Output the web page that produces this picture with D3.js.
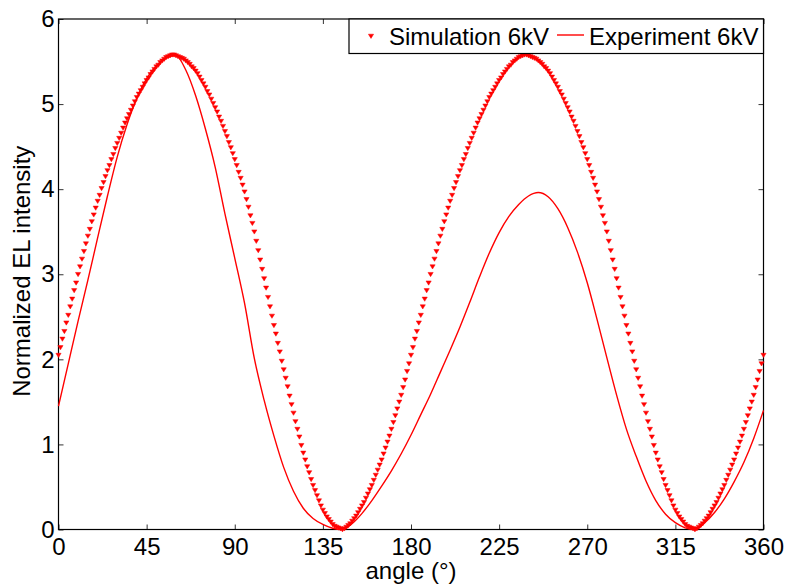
<!DOCTYPE html>
<html>
<head>
<meta charset="utf-8">
<script src="https://cdn.jsdelivr.net/npm/d3@7"></script>
<style>
  html, body { margin: 0; padding: 0; background: #fff; }
  svg { display: block; font-family: "Liberation Sans", Arial, Helvetica, sans-serif; }
</style>
</head>
<body>
<div id="chart"></div>
<script>
// EL intensity vs polariser angle: simulation markers + experiment line.

const xTicks = [0, 45, 90, 135, 180, 225, 270, 315, 360];
const yTicks = [0, 1, 2, 3, 4, 5, 6];

// Simulation 6kV, one value per degree, 0..360
const simValues = [
  // 0..145
  2.05, 2.14, 2.24, 2.33, 2.43, 2.52, 2.62, 2.71, 2.81, 2.90,
  3.00, 3.09, 3.18, 3.27, 3.36, 3.45, 3.53, 3.62, 3.70, 3.78,
  3.86, 3.93, 4.01, 4.08, 4.15, 4.22, 4.28, 4.35, 4.41, 4.48,
  4.54, 4.60, 4.66, 4.72, 4.78, 4.83, 4.88, 4.93, 4.98, 5.03,
  5.08, 5.12, 5.16, 5.20, 5.24, 5.28, 5.31, 5.35, 5.38, 5.41,
  5.44, 5.46, 5.49, 5.51, 5.53, 5.55, 5.56, 5.57, 5.58, 5.58,
  5.57, 5.56, 5.55, 5.54, 5.53, 5.51, 5.49, 5.47, 5.44, 5.42,
  5.39, 5.36, 5.32, 5.28, 5.24, 5.20, 5.15, 5.11, 5.06, 5.01,
  4.96, 4.91, 4.85, 4.80, 4.74, 4.68, 4.62, 4.55, 4.49, 4.42,
  4.35, 4.28, 4.20, 4.13, 4.05, 3.97, 3.88, 3.79, 3.69, 3.60,
  3.50, 3.39, 3.28, 3.17, 3.06, 2.95, 2.84, 2.73, 2.62, 2.51,
  2.40, 2.30, 2.19, 2.09, 1.98, 1.88, 1.78, 1.68, 1.57, 1.47,
  1.37, 1.27, 1.18, 1.09, 0.99, 0.90, 0.82, 0.74, 0.67, 0.59,
  0.52, 0.46, 0.40, 0.34, 0.28, 0.23, 0.19, 0.15, 0.12, 0.09,
  0.06, 0.04, 0.03, 0.02, 0.01, 0.00,
  // 146..325
  0.01, 0.03, 0.05, 0.07, 0.10, 0.13, 0.16, 0.20, 0.24, 0.28,
  0.32, 0.37, 0.42, 0.47, 0.52, 0.58, 0.64, 0.70, 0.76, 0.82,
  0.89, 0.96, 1.03, 1.10, 1.18, 1.26, 1.34, 1.42, 1.50, 1.58,
  1.67, 1.76, 1.86, 1.95, 2.05, 2.14, 2.24, 2.33, 2.43, 2.52,
  2.62, 2.71, 2.81, 2.90, 3.00, 3.09, 3.18, 3.27, 3.36, 3.45,
  3.53, 3.62, 3.70, 3.78, 3.86, 3.93, 4.01, 4.08, 4.15, 4.22,
  4.28, 4.35, 4.41, 4.48, 4.54, 4.60, 4.66, 4.72, 4.78, 4.83,
  4.88, 4.93, 4.98, 5.03, 5.08, 5.12, 5.16, 5.20, 5.24, 5.28,
  5.31, 5.35, 5.38, 5.41, 5.44, 5.46, 5.49, 5.51, 5.53, 5.55,
  5.56, 5.57, 5.58, 5.58, 5.57, 5.56, 5.55, 5.54, 5.53, 5.51,
  5.49, 5.47, 5.44, 5.42, 5.39, 5.36, 5.32, 5.28, 5.24, 5.20,
  5.15, 5.11, 5.06, 5.01, 4.96, 4.91, 4.85, 4.80, 4.74, 4.68,
  4.62, 4.55, 4.49, 4.42, 4.35, 4.28, 4.20, 4.13, 4.05, 3.97,
  3.88, 3.79, 3.69, 3.60, 3.50, 3.39, 3.28, 3.17, 3.06, 2.95,
  2.84, 2.73, 2.62, 2.51, 2.40, 2.30, 2.19, 2.09, 1.98, 1.88,
  1.78, 1.68, 1.57, 1.47, 1.37, 1.27, 1.18, 1.09, 0.99, 0.90,
  0.82, 0.74, 0.67, 0.59, 0.52, 0.46, 0.40, 0.34, 0.28, 0.23,
  0.19, 0.15, 0.12, 0.09, 0.06, 0.04, 0.03, 0.02, 0.01, 0.00,
  // 326..360
  0.01, 0.03, 0.05, 0.07, 0.10, 0.13, 0.16, 0.20, 0.24, 0.28,
  0.32, 0.37, 0.42, 0.47, 0.52, 0.58, 0.64, 0.70, 0.76, 0.82,
  0.89, 0.96, 1.03, 1.10, 1.18, 1.26, 1.34, 1.42, 1.50, 1.58,
  1.67, 1.76, 1.86, 1.95, 2.05
];

// Experiment 6kV, every 5 degrees
const expAngles = [
  0, 5, 10, 15, 20, 25, 30, 35, 40, 45, 50, 55, 60, 65, 70, 75, 80, 85, 90,
  95, 100, 105, 110, 115, 120, 125, 130, 135, 140, 145, 150, 155, 160, 165, 170, 175, 180,
  185, 190, 195, 200, 205, 210, 215, 220, 225, 230, 235, 240, 245, 250, 255, 260, 265, 270,
  275, 280, 285, 290, 295, 300, 305, 310, 315, 320, 325, 330, 335, 340, 345, 350, 355, 360
];
const expValues = [
  1.45, 1.95, 2.45, 2.93, 3.43, 3.92, 4.38, 4.76, 5.07, 5.30, 5.45, 5.54, 5.57, 5.40, 5.10, 4.71, 4.26, 3.71, 3.19,
  2.66, 2.01, 1.52, 1.10, 0.73, 0.45, 0.25, 0.13, 0.06, 0.015, 0.00, 0.07, 0.19, 0.34, 0.51, 0.69, 0.89, 1.11,
  1.35, 1.59, 1.85, 2.11, 2.38, 2.67, 2.97, 3.25, 3.49, 3.68, 3.82, 3.92, 3.96, 3.91, 3.77, 3.55, 3.26, 2.90,
  2.47, 2.02, 1.58, 1.18, 0.86, 0.57, 0.34, 0.18, 0.08, 0.02, 0.00, 0.08, 0.20, 0.36, 0.56, 0.79, 1.07, 1.40
];

const W = 787, H = 585;
const FONT = 24;
const RED = "#ff0000";
const plot = { left: 58.5, right: 763.5, top: 19, bottom: 529.5 };

const svg = d3.select("#chart").append("svg").attr("width", W).attr("height", H);
svg.append("rect").attr("width", W).attr("height", H).attr("fill", "#fff");

const x = d3.scaleLinear().domain([0, 360]).range([plot.left, plot.right]);
const y = d3.scaleLinear().domain([0, 6]).range([plot.bottom, plot.top]);

// ---------- axes (ticks inward, on all four sides) ----------
function styleAxis(g) {
  g.select(".domain").remove();
  g.selectAll(".tick line").attr("stroke", "#333").attr("stroke-width", 1);
  g.selectAll(".tick text").attr("fill", "#000").attr("font-size", FONT)
    .attr("font-family", '"Liberation Sans", Arial, sans-serif');
}

svg.append("g").attr("transform", `translate(0,${plot.bottom})`)
  .call(d3.axisBottom(x).tickValues(xTicks).tickFormat(d3.format("d"))
    .tickSizeInner(-5).tickSizeOuter(0).tickPadding(8))
  .call(styleAxis);
svg.append("g").attr("transform", `translate(0,${plot.top})`)
  .call(d3.axisTop(x).tickValues(xTicks).tickSizeInner(-5).tickSizeOuter(0).tickFormat(""))
  .call(styleAxis);
svg.append("g").attr("transform", `translate(${plot.left},0)`)
  .call(d3.axisLeft(y).tickValues(yTicks).tickFormat(d3.format("d"))
    .tickSizeInner(-5).tickSizeOuter(0).tickPadding(4))
  .call(styleAxis);
svg.append("g").attr("transform", `translate(${plot.right},0)`)
  .call(d3.axisRight(y).tickValues(yTicks).tickSizeInner(-5).tickSizeOuter(0).tickFormat(""))
  .call(styleAxis);

// box
svg.append("rect")
  .attr("x", plot.left).attr("y", plot.top)
  .attr("width", plot.right - plot.left).attr("height", plot.bottom - plot.top)
  .attr("fill", "none").attr("stroke", "#000").attr("stroke-width", 1.2);

// ---------- series ----------
const line = d3.line()
  .x((d, i) => x(expAngles[i]))
  .y(d => y(d))
  .curve(d3.curveMonotoneX);

svg.append("path")
  .datum(expValues)
  .attr("d", line)
  .attr("fill", "none")
  .attr("stroke", RED)
  .attr("stroke-width", 1.4);

// downward triangle marker
const tri = "M-2.6,-1.8L2.6,-1.8L0,2.4Z";
svg.append("g").selectAll("path.sim")
  .data(simValues)
  .join("path")
  .attr("class", "sim")
  .attr("d", tri)
  .attr("transform", (d, i) => `translate(${x(i)},${y(d)})`)
  .attr("fill", RED)
  .attr("stroke", RED)
  .attr("stroke-width", 0.5);

// ---------- labels ----------
svg.append("text")
  .attr("x", (plot.left + plot.right) / 2).attr("y", 579)
  .attr("text-anchor", "middle").attr("font-size", FONT)
  .text("angle (°)");

svg.append("text")
  .attr("transform", `translate(30,${(plot.top + plot.bottom) / 2 - 3}) rotate(-90)`)
  .attr("text-anchor", "middle").attr("font-size", FONT)
  .text("Normalized EL intensity");

// ---------- legend ----------
const leg = svg.append("g");
leg.append("rect")
  .attr("x", 349).attr("y", plot.top)
  .attr("width", plot.right - 349).attr("height", 34.5)
  .attr("fill", "#fff").attr("stroke", "#000").attr("stroke-width", 1.2);
leg.append("path").attr("d", tri)
  .attr("transform", "translate(371,36)")
  .attr("fill", RED).attr("stroke", RED).attr("stroke-width", 0.5);
leg.append("text").attr("x", 389).attr("y", 44.5).attr("font-size", FONT).text("Simulation 6kV");
leg.append("line")
  .attr("x1", 557).attr("x2", 584).attr("y1", 35).attr("y2", 35)
  .attr("stroke", RED).attr("stroke-width", 1.4);
leg.append("text").attr("x", 589).attr("y", 44.5).attr("font-size", FONT).text("Experiment 6kV");
</script>
</body>
</html>
